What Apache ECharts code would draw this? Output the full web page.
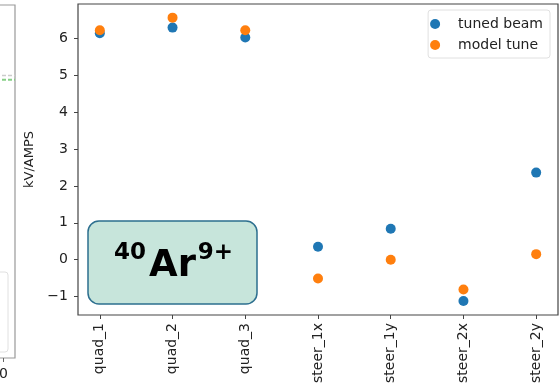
<!DOCTYPE html>
<html>
<head>
<meta charset="utf-8">
<script src="https://cdn.jsdelivr.net/npm/echarts@6/dist/echarts.min.js"></script>
<style>html,body{margin:0;padding:0;background:#fff}#c{width:560px;height:391px}</style>
</head>
<body>
<div id="c"></div>
<script>
const categories = ['quad_1', 'quad_2', 'quad_3', 'steer_1x', 'steer_1y', 'steer_2x', 'steer_2y'];
const tunedBeam = [6.14, 6.29, 6.02, 0.35, 0.84, -1.12, 2.36];
const modelTune = [6.22, 6.56, 6.22, -0.51, 0.0, -0.81, 0.15];
const yTicks = [-1, 0, 1, 2, 3, 4, 5, 6];
const leftPanelTicks = [0];
const leftPanelLines = [0.8, 0.788];

const FONT = 'DejaVu Sans';
const chart = echarts.init(document.getElementById('c'), null, {renderer: 'canvas'});
const xIdx = categories.map((_, i) => i);
const toPairs = arr => arr.map((v, i) => [i, v]);

chart.setOption({
  animation: false,
  backgroundColor: '#fff',
  textStyle: {fontFamily: FONT},
  grid: [
    {left: 78, top: 4, right: 2, bottom: 76, show: true, borderColor: '#444', borderWidth: 1.2, backgroundColor: 'transparent', containLabel: false, outerBoundsMode: 'none'},
    {left: -100, top: 5, right: 545, bottom: 33, show: true, borderColor: '#999', borderWidth: 1.2, backgroundColor: 'transparent', containLabel: false, outerBoundsMode: 'none'}
  ],
  legend: {
    data: ['tuned beam', 'model tune'],
    orient: 'vertical',
    right: 10, top: 10,
    icon: 'circle',
    itemWidth: 36, itemHeight: 10, itemGap: 7,
    padding: [7, 7, 6, 2],
    borderColor: '#e0e0e0', borderWidth: 1, borderRadius: 3,
    backgroundColor: 'rgba(255,255,255,0.8)',
    textStyle: {fontFamily: FONT, fontSize: 14, color: '#222', lineHeight: 14}
  },
  xAxis: [
    {
      type: 'value', gridIndex: 0, min: -0.3, max: 6.3,
      axisLine: {show: false, onZero: false},
      splitLine: {show: false},
      axisTick: {show: true, customValues: xIdx, length: 4, lineStyle: {color: '#444'}},
      axisLabel: {customValues: xIdx, rotate: 90, margin: 8, fontFamily: FONT, fontSize: 14, color: '#222',
        formatter: v => categories[Math.round(v)]}
    },
    {
      type: 'value', gridIndex: 1, min: -9, max: 1,
      axisLine: {show: false, onZero: false}, splitLine: {show: false},
      axisTick: {show: true, customValues: leftPanelTicks, length: 4, lineStyle: {color: '#666'}},
      axisLabel: {customValues: leftPanelTicks, margin: 9, fontFamily: FONT, fontSize: 14, color: '#222'}
    }
  ],
  yAxis: [
    {
      type: 'value', gridIndex: 0, min: -1.5, max: 6.93,
      name: 'kV/AMPS', nameLocation: 'middle', nameGap: 41, nameRotate: 90,
      nameTextStyle: {fontFamily: FONT, fontSize: 13, color: '#222'},
      axisLine: {show: false, onZero: false}, splitLine: {show: false},
      axisTick: {show: true, customValues: yTicks, length: 4, lineStyle: {color: '#444'}},
      axisLabel: {customValues: yTicks, margin: 10, fontFamily: FONT, fontSize: 14, color: '#222',
        formatter: v => (v < 0 ? '\u2212' + Math.abs(v) : String(v))}
    },
    {
      type: 'value', gridIndex: 1, min: 0, max: 1,
      axisLine: {show: false, onZero: false}, splitLine: {show: false}, axisTick: {show: false}, axisLabel: {show: false}
    }
  ],
  series: [
    {
      name: 'tuned beam', type: 'scatter', xAxisIndex: 0, yAxisIndex: 0,
      symbol: 'circle', symbolSize: 10, itemStyle: {color: '#1f77b4', opacity: 1},
      data: toPairs(tunedBeam), z: 3
    },
    {
      name: 'model tune', type: 'scatter', xAxisIndex: 0, yAxisIndex: 0,
      symbol: 'circle', symbolSize: 10, itemStyle: {color: '#ff7f0e', opacity: 1},
      data: toPairs(modelTune), z: 4
    },
    {
      name: 'left-grey', type: 'line', xAxisIndex: 1, yAxisIndex: 1, symbol: 'none',
      lineStyle: {color: '#cccccc', width: 1.5, type: [4, 2]},
      data: [[-9, leftPanelLines[0]], [1, leftPanelLines[0]]]
    },
    {
      name: 'left-green', type: 'line', xAxisIndex: 1, yAxisIndex: 1, symbol: 'none',
      lineStyle: {color: '#86cf86', width: 2, type: [4, 2]},
      data: [[-9, leftPanelLines[1]], [1, leftPanelLines[1]]]
    }
  ],
  graphic: [
    {type: 'rect', shape: {x: -10, y: 272, width: 18, height: 80, r: 3},
      style: {fill: '#fff', stroke: '#e0e0e0', lineWidth: 1}},
    {type: 'group', children: [
      {type: 'rect', shape: {x: 88, y: 221, width: 169, height: 83, r: 11},
        style: {fill: '#c7e5db', stroke: '#2d6f8f', lineWidth: 1.5}},
      {type: 'text', x: 130, y: 253, style: {text: '40', font: 'bold 23px "DejaVu Sans"', fill: '#000', align: 'center', verticalAlign: 'middle'}},
      {type: 'text', x: 172.5, y: 266, style: {text: 'Ar', font: 'bold 37px "DejaVu Sans"', fill: '#000', align: 'center', verticalAlign: 'middle'}},
      {type: 'text', x: 215.5, y: 253, style: {text: '9+', font: 'bold 23px "DejaVu Sans"', fill: '#000', align: 'center', verticalAlign: 'middle'}}
    ]}
  ]
});
</script>
</body>
</html>
